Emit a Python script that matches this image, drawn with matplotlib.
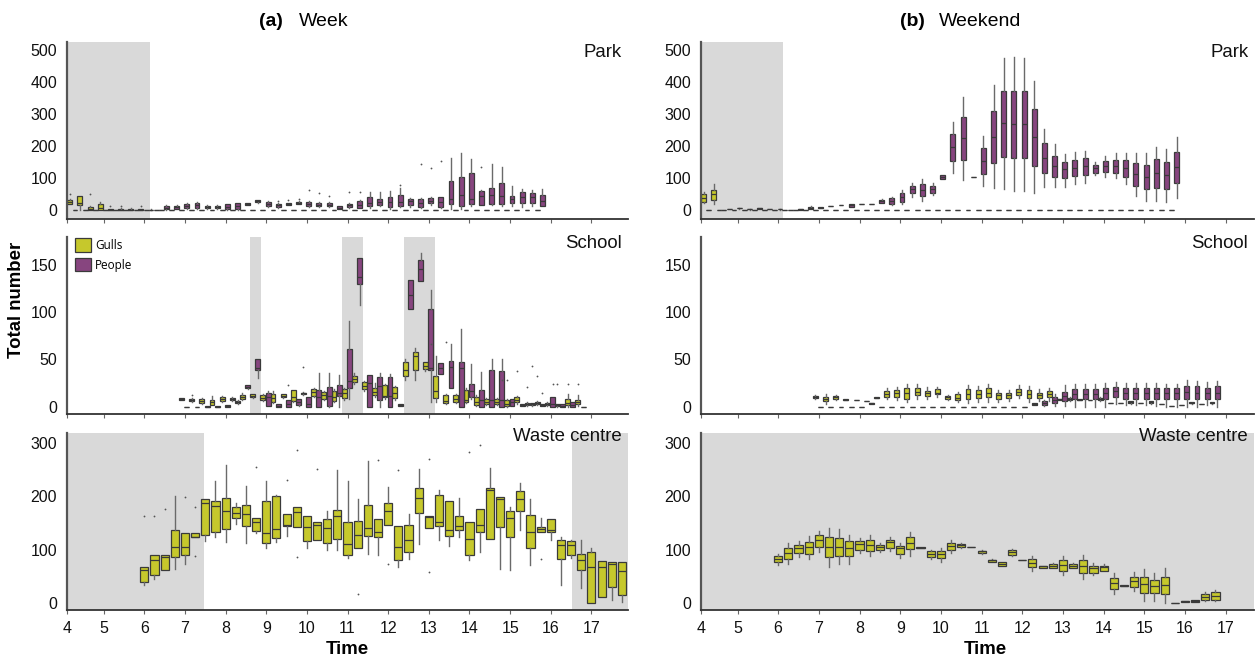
import matplotlib
matplotlib.use('Agg')
import matplotlib.pyplot as plt
from matplotlib.patches import Patch
import numpy as np

plt.rcParams['font.family'] = ['Liberation Sans', 'DejaVu Sans']

GULL = '#c6c82c'
PEOPLE = '#87457f'
SHADE = '#d9d9d9'
EDGE = '#3a3a3a'
MED = '#3a3a3a'
WHISK = '#6a6a6a'

Z = (0, 0, 0, 0, 0)

# ---------------- DATA: (low whisker, Q1, median, Q3, high whisker) per quarter hour ----------------
# Week - Park (slots from 4:15 to 15:45)
park_week_start = 4.25
park_week_gulls = [
    (20, 20, 25, 32, 35), (0, 17, 22, 46, 46), (0, 0, 4, 10, 12), (0, 2, 8, 20, 25),
    (0, 0, 1, 3, 4), (0, 0, 2, 4, 6), (0, 0, 2, 5, 7), (0, 0, 2, 4, 5), (0, 0, 1, 2, 3),
    Z, Z, Z, Z, Z, Z, Z, Z, Z, Z,
    Z, Z, Z, Z, Z, Z, Z, Z, Z, Z,
    Z, Z, Z, Z, Z, Z, Z, Z, Z, Z,
    Z, Z, Z, Z, Z, Z, Z, Z,
]
park_week_people = [
    Z, Z, Z, Z, Z, Z, Z, Z, Z,
    (2, 4, 8, 13, 15), (3, 5, 9, 13, 15), (5, 8, 14, 19, 22), (5, 8, 15, 22, 26),
    (4, 6, 10, 14, 16), (4, 6, 10, 14, 16), (1, 3, 10, 19, 21), (1, 3, 12, 22, 24),
    (15, 17, 19, 22, 24), (23, 25, 28, 31, 33), (11, 13, 19, 25, 28), (8, 10, 15, 21, 24),
    (15, 17, 19, 22, 24), (19, 21, 23, 26, 28), (11, 13, 19, 25, 28), (11, 13, 18, 24, 27),
    (11, 13, 18, 24, 27), (3, 5, 8, 12, 14), (8, 10, 15, 20, 23), (6, 8, 18, 28, 32),
    (8, 14, 22, 41, 56), (12, 17, 25, 36, 56), (5, 9, 26, 41, 61), (10, 13, 26, 48, 69),
    (10, 17, 30, 36, 38), (8, 10, 22, 35, 37), (15, 22, 30, 38, 42), (8, 10, 25, 40, 42),
    (5, 20, 34, 91, 162), (3, 14, 48, 105, 180), (14, 19, 34, 115, 160), (15, 17, 45, 60, 62),
    (15, 19, 48, 70, 143), (14, 19, 45, 84, 134), (12, 22, 36, 45, 77), (10, 24, 43, 58, 66),
    (12, 22, 40, 55, 63), (12, 14, 29, 48, 66),
]
park_week_gull_out = [(4.25, 51), (4.75, 50), (5.25, 14), (5.5, 13), (6.0, 13)]
park_week_people_out = [(9.25, 30), (9.5, 33), (9.75, 36), (10.0, 62), (10.25, 53), (10.5, 46),
                        (11.0, 56), (11.25, 58), (12.25, 80), (12.75, 143), (13.0, 131),
                        (13.25, 155), (14.25, 134)]

# Week - School (slots from 7:00 to 16:45)
school_week_start = 7.0
school_week_gulls = [
    (7, 7, 8, 9, 9), (5, 6, 7, 8, 9), (3, 4, 6, 8, 9), (2, 2, 5, 7, 11), (5, 6, 8, 10, 11),
    (6, 7, 8, 9, 10), (7, 8, 10, 12, 14), (9, 10, 11, 13, 13), (6, 7, 9, 12, 13), (4, 5, 9, 13, 17),
    (9, 10, 11, 13, 13), (5, 6, 10, 18, 18), (12, 13, 14, 15, 16), (10, 11, 16, 19, 20), (7, 8, 12, 16, 17),
    (5, 6, 10, 17, 19), (7, 9, 14, 19, 20), (24, 26, 29, 33, 36), (17, 19, 22, 26, 27), (10, 12, 16, 20, 25),
    (8, 10, 11, 23, 24), (7, 9, 15, 21, 22), (28, 33, 39, 47, 50), (28, 39, 54, 58, 62), (38, 40, 43, 47, 47),
    (5, 9, 17, 33, 54), (3, 4, 6, 12, 13), (4, 5, 8, 12, 13), (4, 5, 7, 18, 20), (1, 2, 5, 10, 12),
    (2, 3, 5, 8, 9), (2, 3, 5, 8, 9), (0, 1, 3, 7, 8), (3, 5, 7, 10, 11), (1, 2, 3, 4, 5),
    (2, 3, 4, 5, 6), (1, 2, 3, 4, 5), (0, 1, 2, 3, 3), (0, 2, 4, 8, 13), (1, 3, 5, 7, 12),
]
school_week_people = [
    Z, Z, (0, 0, 0, 1, 1), (0, 0, 0, 1, 1), (0, 0, 1, 2, 2),
    (3, 4, 5, 6, 7), (19, 20, 21, 23, 23), (30, 39, 41, 51, 51), (1, 1, 10, 14, 17), (0, 0, 1, 3, 3),
    (0, 0, 3, 7, 7), (1, 2, 5, 8, 8), (0, 0, 3, 10, 10), (0, 0, 10, 18, 36), (0, 1, 11, 21, 36),
    (0, 11, 15, 23, 34), (8, 20, 27, 61, 91), (108, 130, 137, 157, 157), (0, 0, 25, 34, 34), (0, 7, 22, 31, 36),
    (0, 0, 11, 31, 35), (1, 1, 2, 3, 3), (103, 103, 118, 134, 134), (133, 133, 146, 155, 163), (5, 39, 41, 103, 124),
    (35, 35, 41, 46, 46), (20, 20, 42, 48, 66), (0, 0, 41, 47, 82), (8, 10, 17, 24, 45), (0, 0, 7, 18, 37),
    (0, 0, 7, 39, 50), (0, 0, 7, 38, 51), (1, 1, 5, 8, 8), (1, 1, 2, 3, 3), (1, 2, 3, 4, 4),
    (1, 1, 2, 3, 3), (0, 0, 3, 10, 10), (0, 0, 1, 3, 3), (0, 0, 2, 5, 5), Z,
]
school_week_gull_out = [(7.25, 12), (10.0, 42), (13.5, 68), (15.0, 28), (15.25, 38), (15.5, 21),
                        (15.75, 32), (16.25, 24), (16.5, 24), (16.75, 24)]
school_week_people_out = [(9.5, 23), (13.0, 66), (14.75, 28), (15.5, 43), (15.75, 15), (16.0, 24)]

# Week - Waste centre (slots from 6:00 to 17:45)
waste_week_start = 6.0
waste_week_gulls = [
    (34, 40, 62, 68, 68), (45, 52, 81, 90, 90), (63, 63, 86, 90, 90), (65, 87, 106, 137, 200),
    (73, 91, 105, 132, 132), (123, 123, 124, 131, 131), (117, 128, 188, 195, 195), (124, 134, 182, 192, 228),
    (115, 138, 173, 196, 258), (149, 159, 169, 179, 187), (113, 145, 166, 184, 220), (132, 136, 151, 159, 159),
    (104, 112, 131, 192, 228), (115, 122, 139, 201, 203), (126, 144, 146, 166, 166), (143, 143, 170, 180, 180),
    (104, 116, 143, 164, 164), (118, 118, 147, 151, 151), (100, 112, 141, 157, 173), (100, 121, 164, 175, 249),
    (85, 91, 110, 151, 228), (103, 103, 127, 153, 195), (93, 126, 140, 183, 266), (91, 123, 133, 157, 157),
    (146, 146, 173, 187, 218), (68, 80, 106, 144, 144), (82, 96, 119, 146, 167), (110, 168, 196, 216, 250),
    (141, 141, 161, 164, 164), (118, 145, 151, 203, 212), (107, 126, 137, 192, 192), (123, 137, 144, 164, 196),
    (81, 91, 121, 151, 151), (95, 133, 146, 177, 177), (121, 121, 212, 215, 253), (65, 142, 194, 198, 198),
    (62, 124, 160, 172, 180), (137, 173, 195, 210, 224), (72, 103, 134, 165, 195), (134, 134, 139, 143, 160),
    (118, 134, 137, 157, 157), (34, 82, 109, 119, 123), (84, 91, 108, 116, 119), (29, 63, 81, 93, 118),
    (1, 1, 68, 96, 104), (11, 11, 67, 79, 79), (7, 30, 73, 77, 77), (3, 16, 60, 77, 77),
]
waste_week_gull_out = [(6.0, 164), (6.25, 163), (6.5, 177), (7.0, 199), (7.25, 179), (7.25, 88),
                       (8.75, 255), (9.5, 231), (9.75, 287), (9.75, 87), (10.25, 251), (11.25, 17),
                       (11.75, 268), (12.0, 73), (12.25, 249), (13.0, 59), (13.0, 269), (14.0, 282),
                       (14.25, 295), (15.75, 83)]

# Weekend - Park (slots from 4:15 to 15:45)
park_wkend_start = 4.25
park_wkend_gulls = [
    (22, 27, 37, 50, 56), (19, 32, 50, 63, 81),
    Z, Z, Z, Z, Z, Z, Z, Z, Z, Z,
    Z, Z, Z, Z, Z, Z, Z, Z, Z, Z,
    Z, Z, Z, Z, Z, Z, Z, Z, Z, Z,
    Z, Z, Z, Z, Z, Z, Z, Z, Z, Z,
    Z, Z, Z, Z, Z,
]
park_wkend_people = [
    Z, Z,
    (3, 3, 4, 5, 5), (5, 6, 7, 8, 8), (2, 3, 3, 4, 4), (4, 5, 6, 7, 7),
    (3, 4, 4, 5, 5), (2, 3, 3, 4, 4), (1, 1, 2, 2, 2), (1, 2, 3, 4, 4),
    (3, 4, 7, 11, 12), (7, 7, 8, 9, 9), (12, 12, 13, 14, 14), (16, 16, 17, 18, 18),
    (10, 11, 15, 19, 20), (19, 19, 20, 21, 21), (19, 19, 20, 21, 21), (22, 24, 28, 32, 34),
    (18, 20, 28, 37, 43), (19, 27, 43, 53, 63), (43, 53, 65, 77, 84), (29, 46, 63, 81, 97),
    (48, 53, 65, 76, 84), (98, 98, 104, 110, 110), (115, 154, 196, 237, 274), (95, 157, 225, 290, 354),
    (105, 105, 105, 105, 105), (77, 113, 155, 193, 232), (69, 147, 230, 310, 391), (65, 167, 271, 373, 474),
    (60, 164, 269, 373, 479), (60, 164, 268, 371, 474), (53, 139, 230, 316, 403), (72, 115, 162, 209, 254),
    (72, 103, 138, 170, 206), (74, 100, 128, 150, 175), (81, 107, 133, 157, 183), (84, 110, 138, 162, 186),
    (110, 117, 133, 141, 152), (105, 121, 138, 154, 169), (100, 115, 138, 156, 180), (82, 105, 131, 156, 180),
    (46, 77, 113, 147, 178), (30, 65, 103, 141, 180), (30, 71, 115, 159, 199), (25, 67, 110, 150, 191),
    (37, 84, 134, 181, 228),
]

# Weekend - School (slots from 7:00 to 16:45)
school_wkend_start = 7.0
school_wkend_gulls = [
    (8, 9, 10, 11.5, 12), (3, 5.6, 8, 10.5, 13), (7, 8, 10, 11.5, 12), (7, 7, 7.5, 8, 8), (7, 7, 7, 7, 7),
    (6, 6, 6, 6, 6), (9, 9, 9.5, 10, 10), (8, 10, 13, 17, 20), (7, 10, 14, 17.5, 21), (5, 8, 15, 19.5, 24),
    (8, 12, 16, 20, 24), (8, 11, 14, 17, 21), (10, 13, 15, 18.5, 21), (7, 8, 10, 11.5, 12), (5, 7, 9, 13, 16),
    (4, 8, 13, 18.5, 23), (5, 9, 13, 17.5, 22), (5, 10, 15, 19.5, 24), (5, 8, 12, 15, 18), (6, 9, 12, 14.5, 18),
    (9, 12, 16, 19, 23), (5, 9, 13, 18, 22), (6, 9, 12, 15, 19), (6, 10, 13, 17, 20), (7, 7, 8, 8, 8),
    (6, 7, 8, 9, 10), (7, 7, 7.5, 8, 8), (7, 7, 7, 7, 7), (6, 7, 8, 9, 10), (4, 4, 4, 4, 4),
    (4, 4, 4, 4, 4), (3, 4, 5, 6, 6), (4, 4, 4, 4, 4), (3, 4, 5, 6, 6), (3, 3, 3, 3, 3),
    (1, 1, 1, 1, 1), (2, 2, 2, 2, 2), (3, 4, 4, 5, 5), (3, 3, 3, 3, 3), (3, 4, 4, 5, 5),
]
school_wkend_people = [
    Z, Z, Z, Z, Z,
    (3, 3, 3.5, 4, 4),
    Z, Z, Z, Z, Z, Z, Z, Z, Z, Z, Z, Z, Z, Z, Z,
    (2, 2, 3, 4, 4), (1, 2, 4, 6, 7), (1, 4, 7, 10, 13), (1, 6, 11, 16, 23), (0, 8, 13, 19, 24),
    (0, 8, 13, 19, 24), (0, 8, 13, 19, 24), (0, 8, 14, 19.5, 25), (3, 10, 17, 21, 26), (2, 8, 14, 19.5, 25),
    (2, 8, 15, 20, 25), (2, 8, 14, 20, 25), (1, 8, 15, 19.5, 25), (0, 8, 14, 19.5, 24), (0, 8, 15, 20, 24),
    (0, 8, 16, 22, 28), (0, 8, 15, 21.5, 27), (2, 8, 14, 20, 26), (0, 8, 15, 21.5, 27),
]

# Weekend - Waste centre (slots from 6:00 to 16:45)
waste_wkend_start = 6.0
waste_wkend_gulls = [
    (72, 77, 83, 87.5, 92), (74, 83, 94, 103, 112), (87, 94, 103, 108, 116), (83, 92.5, 105, 114, 125),
    (96, 105, 117.5, 127, 136), (67.5, 86, 106, 124, 141), (74, 89, 106, 122.5, 138), (74, 87.5, 103, 116, 128),
    (94, 100, 111, 116, 122), (87.5, 97.5, 109, 119, 128), (96, 99, 106, 109, 112), (97.5, 103, 114, 117.5, 124),
    (85, 92.5, 103, 107, 112), (89, 101, 112.5, 124, 134), (103, 103, 104, 105, 105), (83, 86, 92, 97, 100),
    (78, 85, 92, 97.5, 104), (94, 100, 107, 113, 119), (104, 105, 109, 111, 113), (106, 106, 106, 106, 106),
    (93, 94, 97, 97.5, 100), (77, 78, 80, 81, 82), (70, 70.6, 74, 77, 77), (89, 91, 96, 99, 101),
    (80, 80, 80, 80, 80), (61, 67.5, 76, 82, 89), (66, 66, 70, 70.6, 70.6), (66, 66, 69, 72.5, 76),
    (52, 61, 72, 80, 89), (66, 66, 69, 74, 76), (46, 57, 70, 80, 91), (53, 57, 66, 69, 75),
    (61, 61, 67, 69, 74), (17.5, 27, 37.5, 47.5, 57), (32, 32, 33, 34, 34), (22.5, 31, 42, 49, 58),
    (5, 19, 36, 50, 64), (5, 19, 32, 44, 57), (0, 17.5, 35, 50, 66), (1, 1, 1, 1, 1),
    (2, 2, 4, 5, 5), (2, 2, 4, 6, 6), (5, 7, 11, 17.5, 22), (4, 7, 14, 21, 24),
]

# Shaded periods (hours)
park_week_shade = [(4.0, 6.14)]
school_week_shade = [(8.59, 8.87), (10.86, 11.38), (12.39, 13.14)]
waste_week_shade = [(4.0, 7.47), (16.53, 18.0)]
park_wkend_shade = [(4.0, 6.11)]
school_wkend_shade = []
waste_wkend_shade = [(4.0, 18.0)]

hour_ticks = [5, 6, 7, 8, 9, 10, 11, 12, 13, 14, 15, 16, 17]

# ---------------- FIGURE ----------------
W, H = 1255, 658
fig = plt.figure(figsize=(W / 100, H / 100), dpi=100)


def px_axes(x0, x1, ytop, ybot):
    return fig.add_axes([x0 / W, 1 - ybot / H, (x1 - x0) / W, (ybot - ytop) / H])


rows_px = [(41.7, 218.5), (237.0, 414.0), (432.7, 610.0)]
cols_px = [(66.7, 627.6), (700.9, 1253.7)]
xlims = [(4.09, 17.89), (4.10, 17.69)]
ylims = [(-25.6, 526), (-7.7, 179.6), (-12.5, 318.7)]
yticks = [[0, 100, 200, 300, 400, 500], [0, 50, 100, 150], [0, 100, 200, 300]]
labels = ['Park', 'School', 'Waste centre']
label_y = [0.915, 0.938, 0.955]

DODGE_G, DODGE_P, BW = -0.085, 0.045, 0.12


def draw(ax, start, stats, offset, width, color, fliers=()):
    times = start + 0.25 * np.arange(len(stats))
    bx = []
    for t, (lo, q1, med, q3, hi) in zip(times, stats):
        fl = [v for (ft, v) in fliers if abs(ft - t) < 1e-6]
        bx.append(dict(whislo=lo, q1=q1, med=med, q3=q3, whishi=hi, fliers=fl))
    ax.bxp(bx, positions=times + offset, widths=width, patch_artist=True,
           showcaps=False, manage_ticks=False,
           boxprops=dict(facecolor=color, edgecolor=EDGE, linewidth=0.9),
           medianprops=dict(color=MED, linewidth=0.9),
           whiskerprops=dict(color=WHISK, linewidth=1.0),
           flierprops=dict(marker='o', markersize=1.3, markerfacecolor='#555555',
                           markeredgecolor='none'))


axes = {}
for ci, (cx0, cx1) in enumerate(cols_px):
    for ri, (yt, yb) in enumerate(rows_px):
        ax = px_axes(cx0, cx1, yt, yb)
        axes[(ri, ci)] = ax
        ax.set_xlim(*xlims[ci])
        ax.set_ylim(*ylims[ri])
        for s in ['top', 'right']:
            ax.spines[s].set_visible(False)
        ax.spines['left'].set_color('#555555')
        ax.spines['left'].set_linewidth(1.6)
        ax.spines['bottom'].set_color('#333333')
        ax.spines['bottom'].set_linewidth(1.3)
        ax.set_yticks(yticks[ri])
        ax.tick_params(axis='y', length=0, pad=7, labelsize=11.5, labelcolor='#111111')
        ax.set_xticks([xlims[ci][0]] + hour_ticks)
        ax.set_xticklabels(['4'] + [str(h) for h in hour_ticks])
        ax.tick_params(axis='x', length=3, width=0.8, color='#666666', direction='out',
                       pad=5, labelsize=11.5, labelcolor='#111111')
        if ri < 2:
            ax.tick_params(axis='x', labelbottom=False)
        ax.text(0.99, label_y[ri], labels[ri], transform=ax.transAxes, ha='right',
                va='baseline', fontsize=13.4, color='#111111', zorder=10)

shades = {(0, 0): park_week_shade, (1, 0): school_week_shade, (2, 0): waste_week_shade,
          (0, 1): park_wkend_shade, (1, 1): school_wkend_shade, (2, 1): waste_wkend_shade}
for key, spans in shades.items():
    for a, b in spans:
        axes[key].axvspan(a, b, color=SHADE, zorder=0, lw=0)

# Week
draw(axes[(0, 0)], park_week_start, park_week_gulls, DODGE_G, BW, GULL, park_week_gull_out)
draw(axes[(0, 0)], park_week_start, park_week_people, DODGE_P, BW, PEOPLE, park_week_people_out)
draw(axes[(1, 0)], school_week_start, school_week_gulls, DODGE_G, BW, GULL, school_week_gull_out)
draw(axes[(1, 0)], school_week_start, school_week_people, DODGE_P, BW, PEOPLE, school_week_people_out)
draw(axes[(2, 0)], waste_week_start, waste_week_gulls, 0.0, 0.2, GULL, waste_week_gull_out)
# Weekend
draw(axes[(0, 1)], park_wkend_start, park_wkend_gulls, DODGE_G, BW, GULL)
draw(axes[(0, 1)], park_wkend_start, park_wkend_people, DODGE_P, BW, PEOPLE)
draw(axes[(1, 1)], school_wkend_start, school_wkend_gulls, DODGE_G, BW, GULL)
draw(axes[(1, 1)], school_wkend_start, school_wkend_people, DODGE_P, BW, PEOPLE)
draw(axes[(2, 1)], waste_wkend_start, waste_wkend_gulls, 0.0, 0.2, GULL)

# Legend
handles = [Patch(facecolor=GULL, edgecolor=EDGE, linewidth=0.9, label='Gulls'),
           Patch(facecolor=PEOPLE, edgecolor=EDGE, linewidth=0.9, label='People')]
axes[(1, 0)].legend(handles=handles, loc='upper left', bbox_to_anchor=(0.012, 1.0),
                    frameon=False, prop={'family': ['Open Sans', 'DejaVu Sans'], 'size': 8.5},
                    handlelength=1.4, handleheight=1.4, labelspacing=0.5, handletextpad=0.35,
                    borderaxespad=0.0, borderpad=0.1)

# Titles and axis labels
fig.text(259 / W, 1 - 21 / H, '(a)', fontsize=14, fontweight='bold', ha='left', va='center')
fig.text(299 / W, 1 - 21 / H, 'Week', fontsize=14, ha='left', va='center')
fig.text(900 / W, 1 - 21 / H, '(b)', fontsize=14, fontweight='bold', ha='left', va='center')
fig.text(939 / W, 1 - 21 / H, 'Weekend', fontsize=14, ha='left', va='center')
fig.text(17 / W, 1 - 300 / H, 'Total number', rotation=90, fontsize=13.4, fontweight='bold',
         ha='center', va='center')
fig.text(347 / W, 1 - 650 / H, 'Time', fontsize=13.4, fontweight='bold', ha='center', va='center')
fig.text(985 / W, 1 - 650 / H, 'Time', fontsize=13.4, fontweight='bold', ha='center', va='center')

fig.savefig('out.png', dpi=100)
